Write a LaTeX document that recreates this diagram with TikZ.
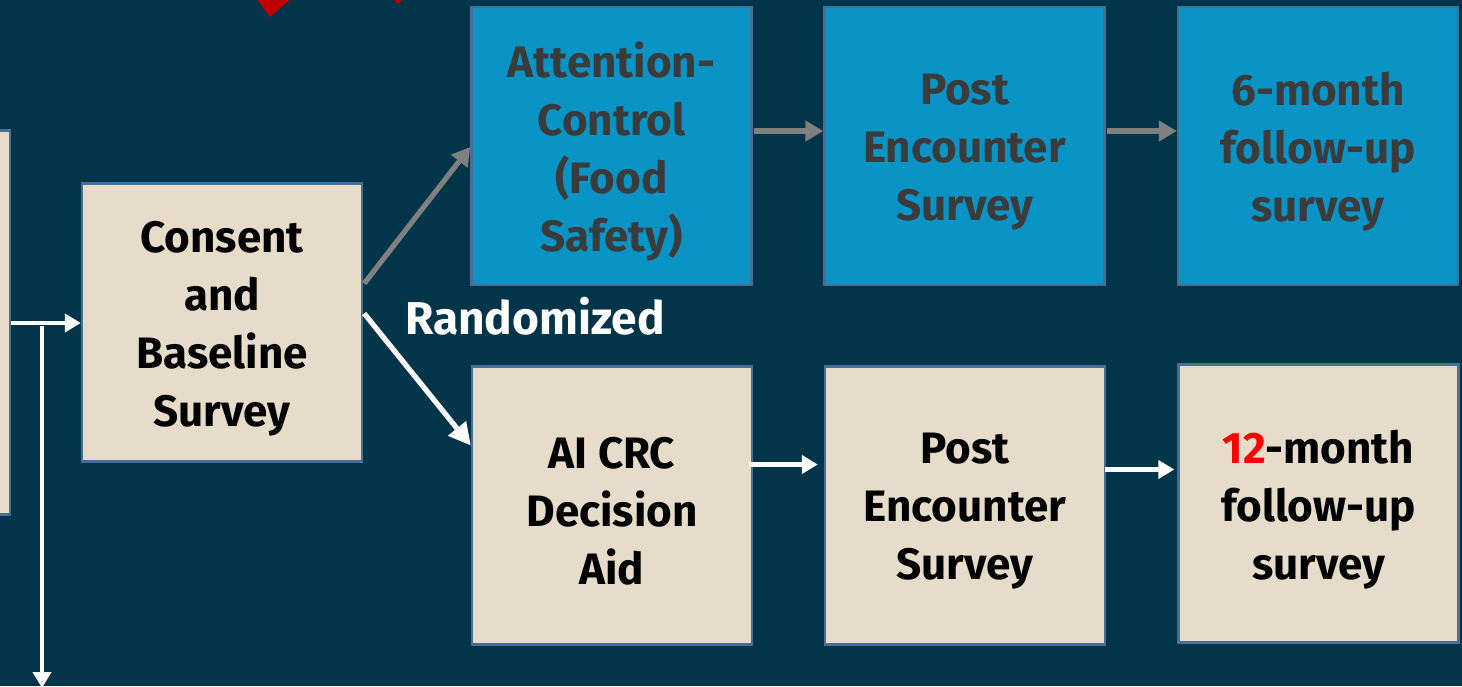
\documentclass[tikz,border=0pt]{standalone}
\usepackage{fontspec}
\setmainfont{Fira Sans}[BoldFont={Fira Sans Bold}]
\usetikzlibrary{arrows.meta,calc}
\definecolor{bg}{HTML}{03354A}
\definecolor{beige}{HTML}{E7DCCA}
\definecolor{edge}{HTML}{4A6E96}
\definecolor{cblue}{HTML}{0A93C5}
\definecolor{dtext}{HTML}{3B3B3B}
\definecolor{garrow}{HTML}{808080}
\definecolor{dred}{HTML}{C00000}
\tikzset{
  box/.style={rectangle, draw=edge, line width=1.2pt, minimum width=140pt, minimum height=139pt,
    inner sep=0pt},
  btxt/.style={align=center, inner sep=0pt, yshift=-3pt, font=\fontsize{22}{29}\selectfont\bfseries},
  beigebox/.style={box, fill=beige},
  bluebox/.style={box, fill=cblue},
  btext/.style={label={[btxt, text=black]center:#1}},
  gtext/.style={label={[btxt, text=dtext]center:#1}},
  warrow/.style={draw=white, line width=2.2pt, -{Triangle[length=8pt,width=9pt]}},
  wdiag/.style={draw=white, line width=2.6pt, -{Triangle[length=11pt,width=11pt]}},
  garr/.style={draw=garrow, line width=2.6pt, -{Triangle[length=9pt,width=10pt]}},
}
\begin{document}
\begin{tikzpicture}[x=0.5pt,y=-0.5pt]
\useasboundingbox (0,0) rectangle (1462,686);
\clip (0,0) rectangle (1462,686);
\fill[bg] (0,0) rectangle (1462,686);
% red partial shapes at top
\fill[dred] (256,-2) -- (270,17) -- (292,-2) -- cycle;
\fill[dred] (392,-2) -- (398,4) -- (404,-2) -- cycle;
% nodes
\node[beigebox, minimum width=40pt, minimum height=192pt] (left) at (-30,322.5) {};
\node[beigebox, btext={Consent\\and\\Baseline\\Survey}] (cons) at (222,322.5) {};
\node[bluebox, gtext={Attention-\\Control\\(Food\\Safety)}] (att) at (611.5,146) {};
\node[bluebox, gtext={Post\\Encounter\\Survey}] (pe1) at (964.5,146) {};
\node[bluebox, gtext={6-month\\follow-up\\survey}] (six) at (1318,146) {};
\node[beigebox, btext={AI CRC\\Decision\\Aid}] (ai) at (612,505.5) {};
\node[beigebox, btext={Post\\Encounter\\Survey}] (pe2) at (965,505.5) {};
\node[beigebox, btext={\textcolor{red}{12}-month\\follow-up\\survey}] (twelve) at (1318.5,503.5) {};
\node[text=white, font=\fontsize{23}{26}\selectfont\bfseries, anchor=center] (rand) at (535,316) {Randomized};
% connectors
\coordinate (split) at (42,323);
\coordinate (down) at (42,688);
\draw[warrow] (left.east |- split) -- (cons.west |- split);
\draw[warrow] (42,326) -- (down);
\draw[garr] ($(cons.east)+(1,-39)$) -- ($(att.west)+(0,1)$);
\draw[wdiag] ($(cons.east)+(1,-9)$) -- ($(ai.west)+(0,-60)$);
\draw[garr] ($(att.east)+(1,-15)$) -- ($(pe1.west)+(0,-15)$);
\draw[garr] ($(pe1.east)+(1,-15)$) -- ($(six.west)+(0,-15)$);
\draw[warrow] ($(ai.east)+(-4,-41)$) -- ($(pe2.west)+(-6,-41)$);
\draw[warrow] ($(pe2.east)+(-1,-36)$) -- ($(twelve.west)+(-3,-34)$);
\end{tikzpicture}
\end{document}
